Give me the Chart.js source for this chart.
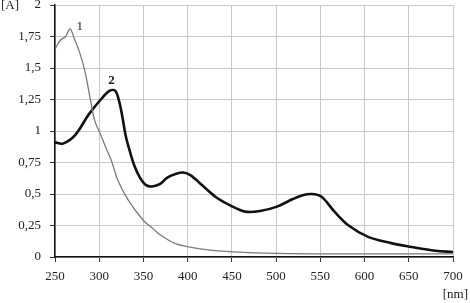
<!DOCTYPE html>
<html>
<head>
<meta charset="utf-8">
<script src="https://cdn.jsdelivr.net/npm/chart.js@4.4.0/dist/chart.umd.min.js"></script>
<style>
  html, body { margin: 0; padding: 0; background: #fff; }
  #wrap { width: 470px; height: 303px; position: relative; }
</style>
</head>
<body>
<div id="wrap"><canvas id="grafico"></canvas></div>
<script>
// curva 1 (gris fina)
const nm1 = [250, 256, 262, 267, 272, 278, 284, 290, 295, 301, 308, 314, 321, 333, 350, 360, 370, 385, 401, 425, 452, 500, 550, 600, 650, 700];
const abs1 = [1.65, 1.72, 1.75, 1.81, 1.73, 1.62, 1.47, 1.25, 1.08, 0.98, 0.86, 0.76, 0.61, 0.45, 0.29, 0.23, 0.17, 0.11, 0.08, 0.055, 0.04, 0.028, 0.025, 0.025, 0.025, 0.025];

// curva 2 (negra gruesa)
const nm2 = [250, 259, 273, 288, 303, 312, 318, 322, 326, 330, 335, 340, 346, 353, 360, 369, 377, 387, 395, 403, 418, 433, 448, 465, 482, 501, 519, 530, 540, 551, 566, 582, 604, 630, 653, 680, 700];
const abs2 = [0.91, 0.90, 0.97, 1.13, 1.26, 1.32, 1.32, 1.25, 1.12, 0.96, 0.83, 0.72, 0.63, 0.57, 0.56, 0.58, 0.63, 0.66, 0.67, 0.65, 0.56, 0.47, 0.41, 0.36, 0.365, 0.40, 0.46, 0.49, 0.50, 0.48, 0.36, 0.25, 0.16, 0.11, 0.08, 0.05, 0.04];

const xTicks = [250, 300, 350, 400, 450, 500, 550, 600, 650, 700];
const yTicks = [0, 0.25, 0.5, 0.75, 1, 1.25, 1.5, 1.75, 2];

const fuente = 'Liberation Serif, Times New Roman, serif';

const etiquetas = {
    id: 'etiquetas',
    afterDraw(chart) {
        const ctx = chart.ctx;
        const x = chart.scales.x, y = chart.scales.y;
        ctx.save();
        ctx.fillStyle = '#222';
        ctx.font = '13px ' + fuente;
        ctx.textBaseline = 'middle';
        ctx.textAlign = 'left';
        ctx.fillText('[A]', 1, 6);
        ctx.textAlign = 'right';
        ctx.fillText('[nm]', 468, 295);
        ctx.textAlign = 'center';
        ctx.fillText('1', x.getPixelForValue(278), y.getPixelForValue(1.83));
        ctx.font = 'bold 13px ' + fuente;
        ctx.fillText('2', x.getPixelForValue(314), y.getPixelForValue(1.40));
        ctx.restore();
    }
};

new Chart(document.getElementById('grafico'), {
    type: 'line',
    data: {
        datasets: [
            {
                label: '1',
                data: nm1.map((v, i) => ({ x: v, y: abs1[i] })),
                borderColor: '#7a7a7a',
                borderWidth: 1.3,
                pointRadius: 0,
                tension: 0.35
            },
            {
                label: '2',
                data: nm2.map((v, i) => ({ x: v, y: abs2[i] })),
                borderColor: '#111',
                borderWidth: 2.6,
                pointRadius: 0,
                tension: 0.35
            }
        ]
    },
    options: {
        responsive: true,
        maintainAspectRatio: false,
        animation: false,
        layout: { padding: { top: 5, right: 17, left: 0, bottom: 0 } },
        plugins: { legend: { display: false }, tooltip: { enabled: false } },
        scales: {
            x: {
                type: 'linear',
                min: 250,
                max: 700,
                afterBuildTicks: s => { s.ticks = xTicks.map(v => ({ value: v })); },
                afterFit: s => { s.height = 46; s.paddingLeft = 0; s.paddingRight = 0; },
                grid: { color: '#c9c9c9', tickColor: '#333', tickLength: 5 },
                border: { color: '#111', width: 1.5 },
                ticks: { color: '#222', font: { family: fuente, size: 13 }, padding: 7, maxRotation: 0 }
            },
            y: {
                min: 0,
                max: 2,
                afterBuildTicks: s => { s.ticks = yTicks.map(v => ({ value: v })); },
                afterFit: s => { s.width = 55; s.paddingTop = 0; s.paddingBottom = 0; },
                grid: { color: '#c9c9c9', tickColor: '#333', tickLength: 5 },
                border: { color: '#111', width: 1.5 },
                ticks: {
                    color: '#222',
                    font: { family: fuente, size: 13 },
                    padding: 9,
                    callback: v => String(v).replace('.', ',')
                }
            }
        }
    },
    plugins: [etiquetas]
});
</script>
</body>
</html>
